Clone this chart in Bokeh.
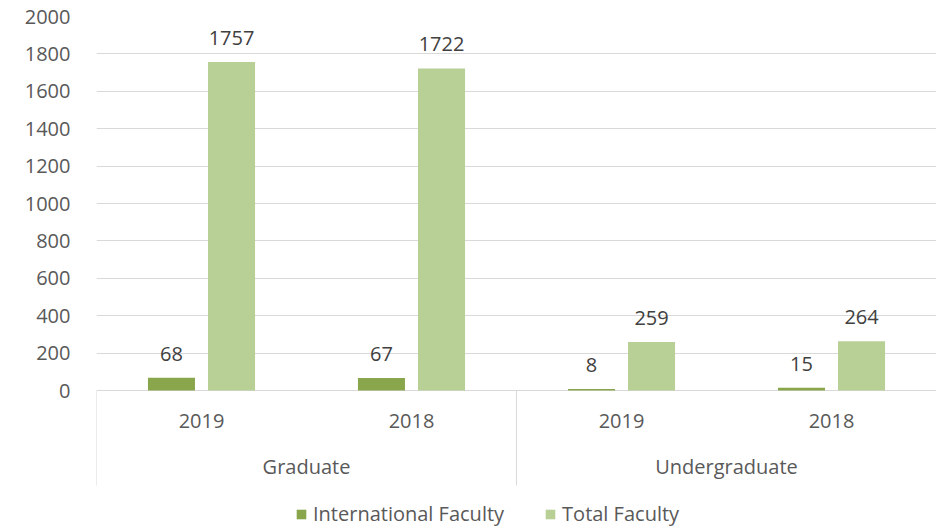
from bokeh.plotting import figure
from bokeh.models import ColumnDataSource, Range1d, FixedTicker, Legend, LegendItem
from bokeh.transform import dodge
from bokeh.core.properties import value
from bokeh.embed import file_html
from bokeh.resources import INLINE

# ---- data ----
groups = ["Graduate", "Undergraduate"]
years = ["2019", "2018", "2019", "2018"]
international = [68, 67, 8, 15]
total = [1757, 1722, 259, 264]
y_ticks = [0, 200, 400, 600, 800, 1000, 1200, 1400, 1600, 1800, 2000]

DARK = "#8aa64d"
LIGHT = "#b8cf96"
FONT = "Open Sans"
FS = "20px"

W, H = 936, 527
TOP, LEFT = 16, 96
YMAX = 2000
PX_PER_UNIT = 374 / YMAX
frame_h = H - TOP
ymin = -(frame_h / PX_PER_UNIT - YMAX)

p = figure(width=W, height=H, output_backend="svg", toolbar_location=None,
           x_range=Range1d(0, len(years)), y_range=Range1d(ymin, YMAX),
           min_border_left=LEFT, min_border_right=0, min_border_top=TOP,
           min_border_bottom=0, x_axis_location=None)
p.outline_line_color = None
p.background_fill_color = "white"
p.border_fill_color = "white"

p.yaxis.ticker = FixedTicker(ticks=y_ticks)
p.yaxis.axis_line_color = None
p.yaxis.major_tick_line_color = None
p.yaxis.minor_tick_line_color = None
p.yaxis.major_label_standoff = 20
p.yaxis.major_label_text_font = FONT
p.yaxis.major_label_text_font_size = FS
p.yaxis.major_label_text_color = "#595959"
p.xgrid.visible = False
p.ygrid.ticker = FixedTicker(ticks=y_ticks)
p.ygrid.grid_line_color = "#d9d9d9"
p.ygrid.grid_line_width = 1

xs = [i + 0.5 for i in range(len(years))]
src = ColumnDataSource(dict(x=xs, intl=international, tot=total,
                            intl_s=[str(v) for v in international],
                            tot_s=[str(v) for v in total], year=years))

OFF = 0.143
BW = 0.224
r1 = p.vbar(x=dodge("x", -OFF), top="intl", bottom=0, width=BW, source=src,
            fill_color=DARK, line_color=None)
r2 = p.vbar(x=dodge("x", OFF), top="tot", bottom=0, width=BW, source=src,
            fill_color=LIGHT, line_color=None)

lbl = dict(text_font=value(FONT), text_font_size=FS, text_color="#404040",
           text_align="center", text_baseline="middle", y_offset=-24, source=src)
p.text(x=dodge("x", -OFF), y="intl", text="intl_s", **lbl)
p.text(x=dodge("x", OFF), y="tot", text="tot_s", **lbl)

# category axis
p.text(x="x", y=0, text="year", source=src, y_offset=30, text_font=value(FONT),
       text_font_size=FS, text_color="#595959", text_align="center",
       text_baseline="middle")
gsrc = ColumnDataSource(dict(x=[2 * g + 1 for g in range(len(groups))], name=groups))
p.text(x="x", y=0, text="name", source=gsrc, y_offset=76, text_font=value(FONT),
       text_font_size=FS, text_color="#595959", text_align="center",
       text_baseline="middle")
sep_bottom = -95 / PX_PER_UNIT
sep_x = [2 * g for g in range(len(groups) + 1)]
p.segment(x0=sep_x, y0=[0] * len(sep_x), x1=sep_x, y1=[sep_bottom] * len(sep_x),
          line_color="#d9d9d9", line_width=1)

legend = Legend(items=[LegendItem(label="International Faculty", renderers=[r1]),
                       LegendItem(label="Total Faculty", renderers=[r2])],
                location=(199, 0), orientation="horizontal",
                border_line_color=None, background_fill_alpha=0,
                label_text_font=FONT, label_text_font_size=FS,
                label_text_color="#595959", glyph_width=12, glyph_height=12,
                spacing=40, padding=0, margin=0, label_standoff=6,
                label_height=20)
p.add_layout(legend, "center")

open("out.html", "w").write(file_html(p, INLINE))
